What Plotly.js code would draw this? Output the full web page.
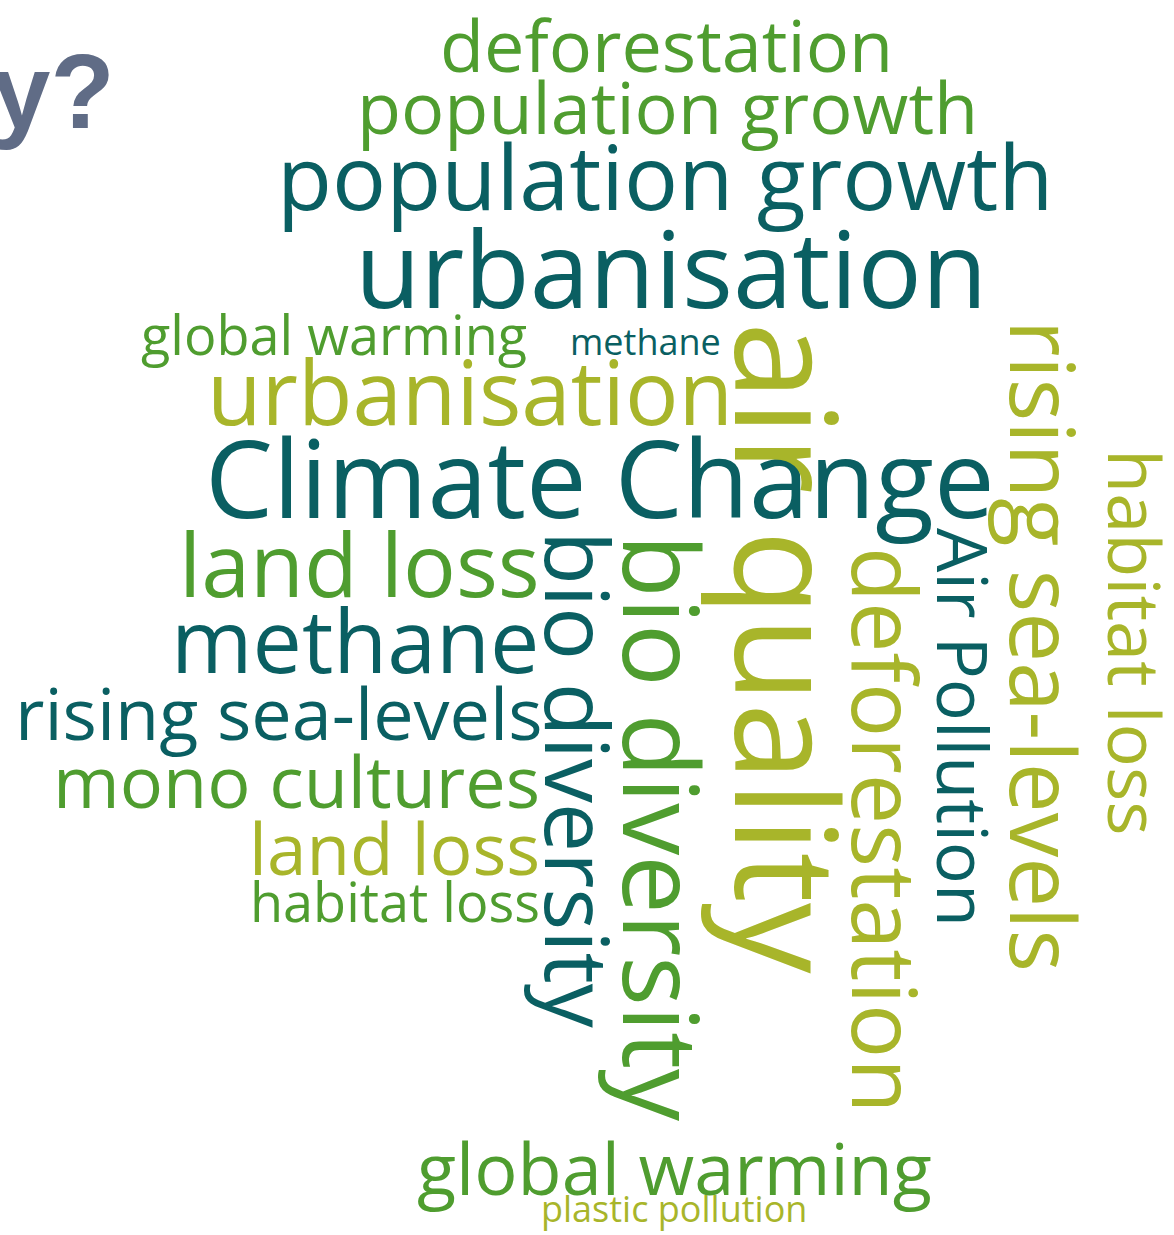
<!DOCTYPE html>
<html>
<head>
<meta charset="utf-8">
<script src="https://cdn.plot.ly/plotly-3.0.1.min.js"></script>
<style>html,body{margin:0;padding:0;background:#fff;}#chart{width:1174px;height:1235px;}</style>
</head>
<body>
<div id="chart"></div>
<script>
// Word cloud data
var words = ["deforestation","population growth","population growth","urbanisation","global warming","methane","urbanisation","Climate Change","land loss","methane","rising sea-levels","mono cultures","land loss","habitat loss","global warming","plastic pollution","air quality","rising sea-levels","habitat loss","Air Pollution","deforestation","bio diversity","bio diversity"];
var weights = [72,72,90,107,54,36,89,108,88,88,72,72,71,54,72,36,141,89,72,70,90,104,88];

// Placement (layout, not data)
var posX = [666,667,665,671,334,645,470,600,359,355,278,296,394,395,674,674,790,1045,1136,964,887,664,579];
var posY = [44,106,175,266,334,341,390,476,563,639,712,780,847,901,1167,1208,648,646,642,727,830,828,780];
var angles = [0,0,0,0,0,0,0,0,0,0,0,0,0,0,0,0,90,90,90,90,90,90,90];
var DARK = "#0a5f62", GREEN = "#4f9d2f", OLIVE = "#a8b52a";
var colors = [GREEN,GREEN,DARK,DARK,GREEN,DARK,OLIVE,DARK,GREEN,DARK,DARK,GREEN,OLIVE,GREEN,GREEN,OLIVE,OLIVE,OLIVE,OLIVE,DARK,OLIVE,GREEN,DARK];

var titleText = "y?";

var annotations = words.map(function(w, i){
  return {
    text: w, x: posX[i], y: posY[i], xref: "x", yref: "y",
    showarrow: false, xanchor: "center", yanchor: "middle",
    textangle: angles[i],
    font: {family: "Open Sans, sans-serif", size: weights[i], color: colors[i], weight: 400}
  };
});
annotations.push({
  text: "<b>" + titleText + "</b>", x: 0, xshift: -10, y: 91, xref: "x", yref: "y",
  showarrow: false, xanchor: "left", yanchor: "middle",
  font: {family: "Liberation Sans, Arial, sans-serif", size: 105, color: "#606c86"}
});

var layout = {
  width: 1174, height: 1235,
  margin: {l:0, r:0, t:0, b:0},
  paper_bgcolor: "#ffffff", plot_bgcolor: "#ffffff",
  xaxis: {range: [0,1174], visible: false, fixedrange: true},
  yaxis: {range: [1235,0], visible: false, fixedrange: true},
  showlegend: false,
  annotations: annotations
};

Plotly.newPlot("chart", [{x: [], y: [], type: "scatter", hoverinfo: "skip"}], layout, {staticPlot: true, displayModeBar: false});
</script>
</body>
</html>
